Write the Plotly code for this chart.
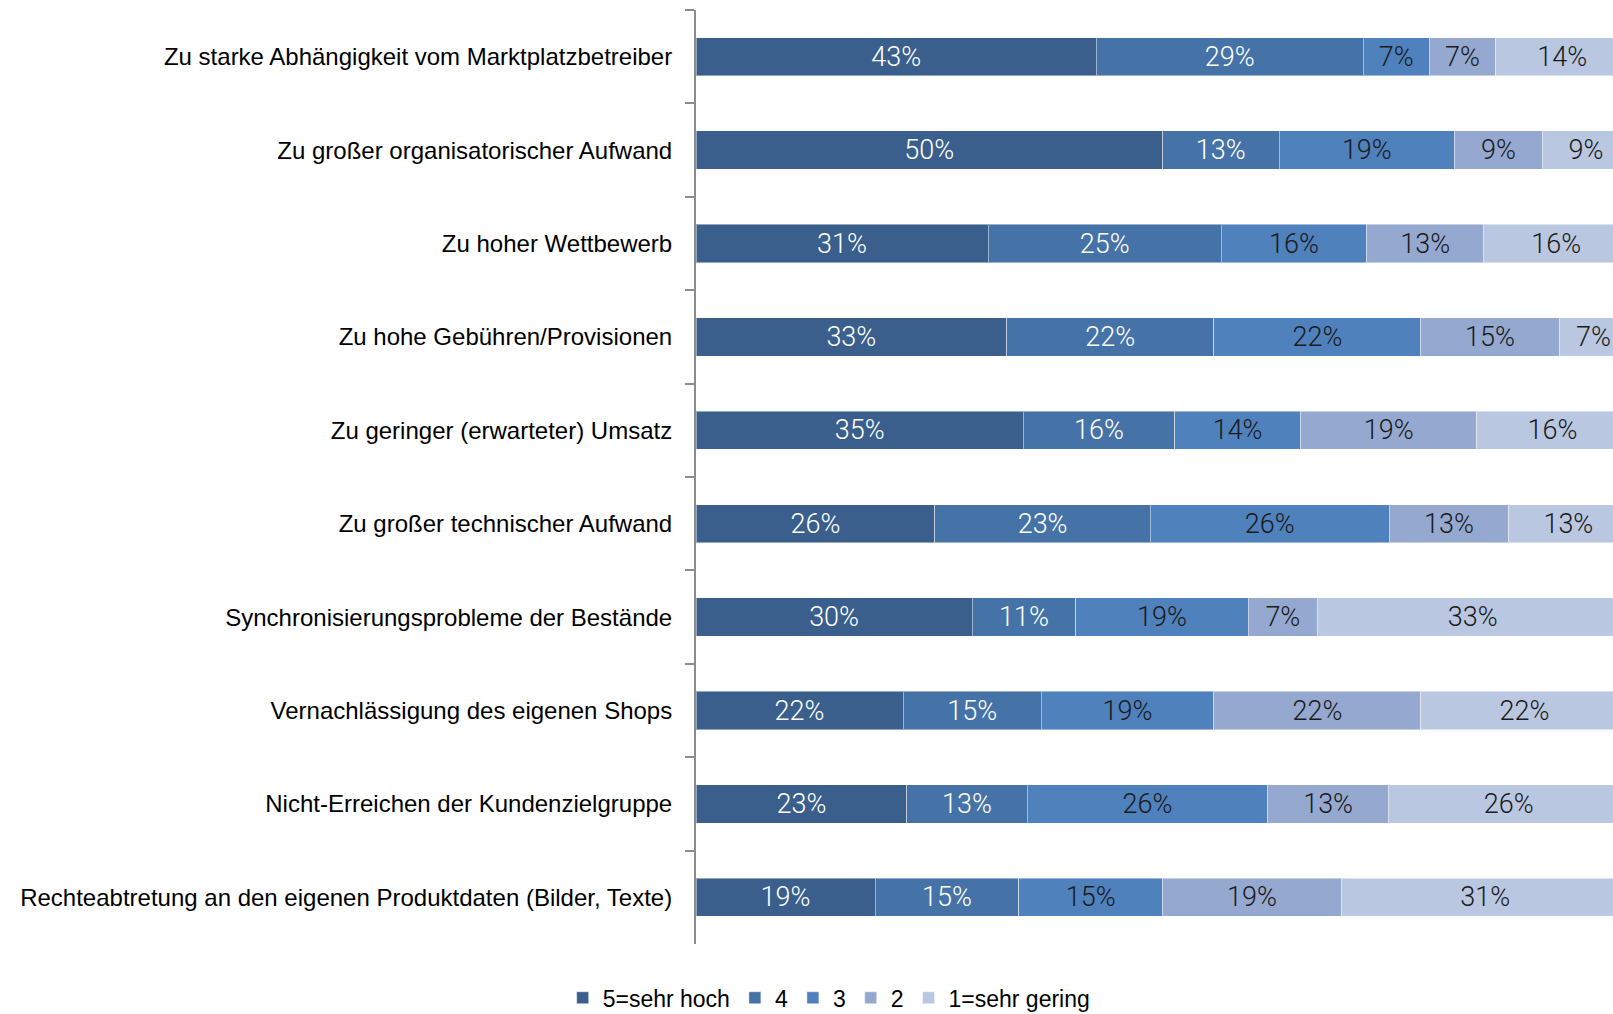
import plotly.graph_objects as go

categories = [
    "Zu starke Abhängigkeit vom Marktplatzbetreiber",
    "Zu großer organisatorischer Aufwand",
    "Zu hoher Wettbewerb",
    "Zu hohe Gebühren/Provisionen",
    "Zu geringer (erwarteter) Umsatz",
    "Zu großer technischer Aufwand",
    "Synchronisierungsprobleme der Bestände",
    "Vernachlässigung des eigenen Shops",
    "Nicht-Erreichen der Kundenzielgruppe",
    "Rechteabtretung an den eigenen Produktdaten (Bilder, Texte)",
]

series_names = ["5=sehr hoch", "4", "3", "2", "1=sehr gering"]

# shares in percent
s5 = [42.9, 50.0, 31.3, 33.3, 35.1, 25.6, 29.6, 22.2, 22.6, 19.2]
s4 = [28.6, 12.5, 25.0, 22.2, 16.2, 23.1, 11.1, 14.8, 12.9, 15.4]
s3 = [7.1, 18.8, 15.6, 22.2, 13.5, 25.6, 18.5, 18.5, 25.8, 15.4]
s2 = [7.1, 9.4, 12.5, 14.8, 18.9, 12.8, 7.4, 22.2, 12.9, 19.2]
s1 = [14.3, 9.4, 15.6, 7.4, 16.2, 12.8, 33.3, 22.2, 25.8, 30.8]

colors = ["#3a5f8c", "#4673a7", "#4f81bd", "#95a9d0", "#bac7e1"]
text_colors = ["white", "white", "#1a1a1a", "#1a1a1a", "#1a1a1a"]

fig = go.Figure()

for name, vals, col, tcol in zip(series_names, [s5, s4, s3, s2, s1], colors, text_colors):
    fig.add_trace(go.Bar(
        y=categories,
        x=vals,
        name=name,
        orientation='h',
        marker=dict(color=col, line=dict(color='rgba(255,255,255,0.45)', width=1)),
        text=[f"{int(v + 0.5)}%" for v in vals],
        textposition='inside',
        insidetextanchor='middle',
        constraintext='none',
        textangle=0,
        textfont=dict(family='Roboto', size=27, color=tcol, weight=300),
        hoverinfo='skip',
    ))

# the plot area runs a little past the window's right edge, as in the original
fig.update_layout(
    barmode='stack',
    bargap=0.59,
    width=1629,
    height=1014,
    margin=dict(l=696, r=0, t=10, b=70),
    plot_bgcolor='white',
    paper_bgcolor='white',
    font=dict(family='Liberation Sans, Arial', size=24, color='black'),
    showlegend=True,
    legend=dict(
        orientation='h',
        xref='container', yref='container',
        x=0.509, y=0.016,
        xanchor='center', yanchor='middle',
        font=dict(size=23),
        traceorder='normal',
        itemwidth=30,
    ),
    xaxis=dict(
        range=[0, 100],
        showgrid=False,
        showticklabels=False,
        zeroline=False,
        showline=False,
        fixedrange=True,
    ),
    yaxis=dict(
        autorange='reversed',
        automargin=False,
        showline=True,
        linecolor='#8c8c8c',
        linewidth=2,
        ticks='outside',
        tickson='boundaries',
        ticklen=9,
        tickcolor='#8c8c8c',
        tickwidth=2,
        ticklabelstandoff=17,
        showgrid=False,
        tickfont=dict(size=24),
    ),
)

# drop the default page margin and scrollbars so the figure sits at the window's corner
fig.write_html(
    "out.html",
    config={'displayModeBar': False},
    post_script="document.body.style.margin='0';document.body.style.overflow='hidden';",
)
